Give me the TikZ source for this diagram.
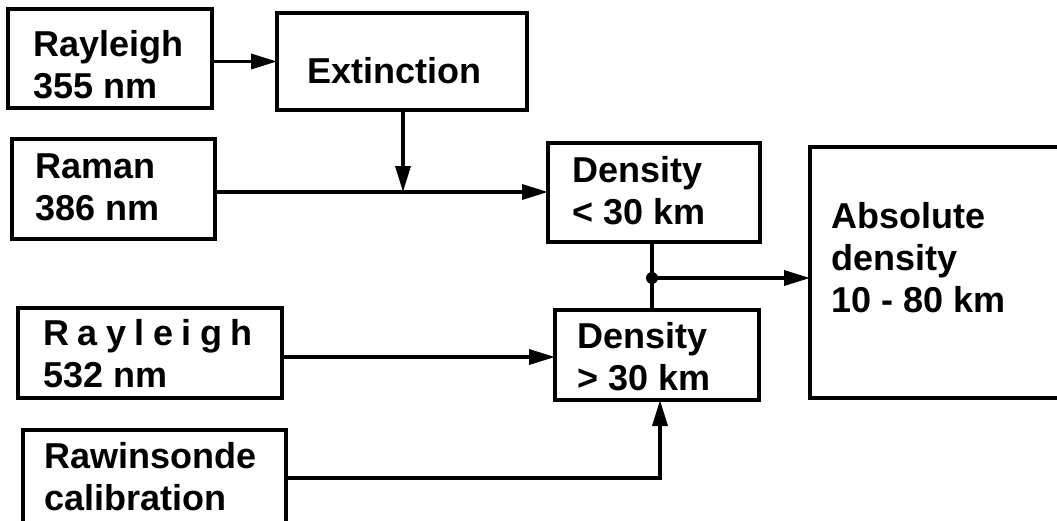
\documentclass[tikz,border=0pt]{standalone}
\usepackage{fontspec}
\setmainfont{Liberation Sans}
\usetikzlibrary{arrows.meta}
\begin{document}
\begin{tikzpicture}[x=1pt,y=-1pt,
  box/.style={draw, line width=4.2pt, rectangle, inner sep=0pt, outer sep=0pt, anchor=north west},
  txt/.style={anchor=north west, inner sep=0pt, align=left, font=\fontsize{36}{42}\selectfont\bfseries},
  conn/.style={line width=3.4pt},
  arr/.style={conn, -{Triangle[length=26pt,width=15pt]}}]
\clip (0,0) rectangle (1057,520);
% boxes
\node[box, minimum width=204pt, minimum height=99pt] (r355) at (8,9) {};
\node[box, minimum width=250pt, minimum height=97pt] (ext) at (277,13) {};
\node[box, minimum width=203pt, minimum height=100pt] (ram) at (12,139) {};
\node[box, minimum width=212pt, minimum height=99pt] (dlow) at (548,143) {};
\node[box, minimum width=265pt, minimum height=251pt] (abs) at (810,147) {};
\node[box, minimum width=264pt, minimum height=90pt] (r532) at (18,308) {};
\node[box, minimum width=204pt, minimum height=90pt] (dhigh) at (555,310) {};
\node[box, minimum width=263pt, minimum height=115pt] (raw) at (23,430) {};
% texts
\node[txt] (r355t) at (33,30) {Rayleigh\\355 nm};
\node[txt] (extt) at (307,57) {Extinction};
\node[txt] (ramt) at (35,154) {Raman\\386 nm};
\node[txt] (dlowt) at (572,156) {Density\\< 30 km};
\node[txt] (abst) at (831,202) {Absolute\\density\\10 - 80 km};
\node[txt] (r532t) at (43,319) {R\kern8.5pt a\kern8.5pt y\kern8.5pt l\kern8.5pt e\kern8.5pt i\kern8.5pt g\kern8.5pt h\\532 nm};
\node[txt] (dhight) at (577,322) {Density\\> 30 km};
\node[txt] (rawt) at (44,442) {Rawinsonde\\calibration};
% helper coordinates
\coordinate (m1) at (403,192);
\coordinate (j2) at (652,278);
\coordinate (m3) at (400,357);
\coordinate (m4) at (660,478);
% connectors
\draw[arr] (r355.east |- ext.west) -- (ext.west);
\draw[arr] (ext.south -| m1) -- (m1);
\draw[arr] (ram.east |- m1) -- (dlow.west |- m1);
\draw[conn] (dlow.south -| j2) -- (dhigh.north -| j2);
\fill (j2) circle (6pt);
\draw[arr] (j2) -- (abs.west |- j2);
\draw[arr] (r532.east |- m3) -- (dhigh.west |- m3);
\draw[arr] (raw.east |- m4) -- (m4) -- (dhigh.south -| m4);
\end{tikzpicture}
\end{document}
